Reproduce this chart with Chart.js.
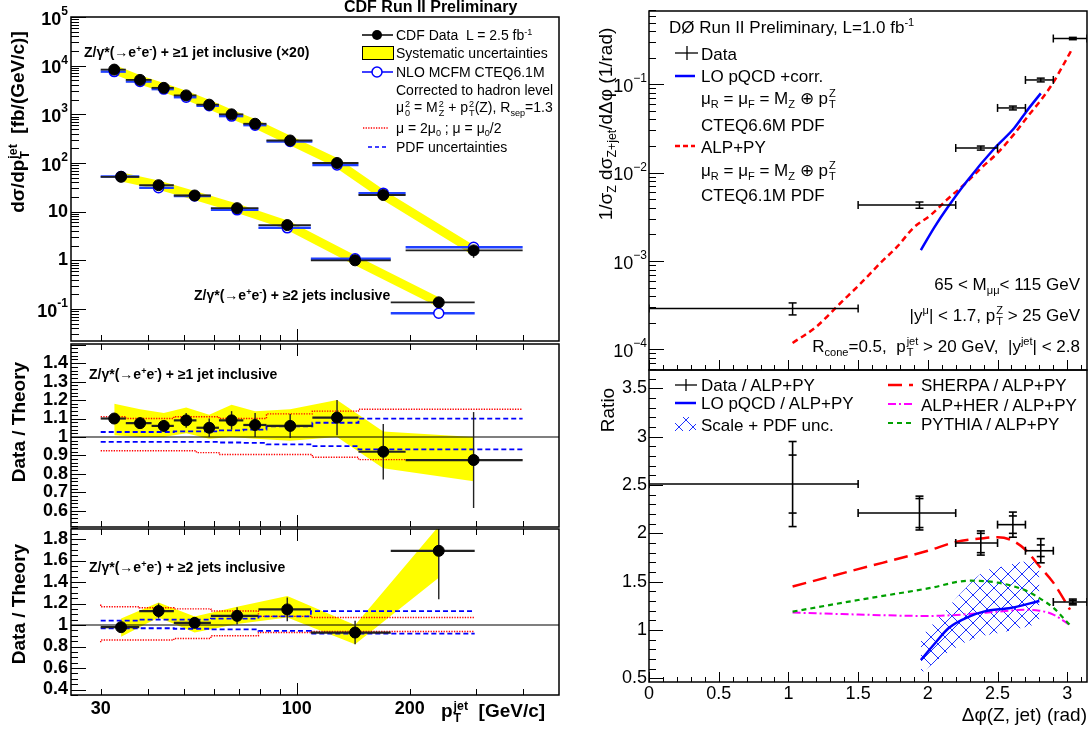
<!DOCTYPE html>
<html>
<head>
<meta charset="utf-8">
<script src="https://cdn.jsdelivr.net/npm/chart.js@4.4.1/dist/chart.umd.min.js"></script>
<style>
  body { margin: 0; background: #fff; width: 1092px; height: 731px; overflow: hidden; position: relative; font-family: "Liberation Sans", Arial, Helvetica, sans-serif; }
  canvas { position: absolute; left: 0; top: 0; }
  .t { position: absolute; white-space: nowrap; line-height: 1; color: #000; transform-origin: 50% 50%; }
  sup, sub { font-size: 65%; line-height: 0; position: relative; vertical-align: baseline; }
  sup { top: -0.6em; }
  sub { top: 0.35em; }
  .ss { display: inline-block; vertical-align: -0.4em; font-size: 65%; line-height: 1; text-align: left; margin-left: 1px; }
  .ss i { display: block; font-style: normal; }
</style>
</head>
<body>
<canvas id="tl" width="1092" height="731"></canvas>
<canvas id="ml" width="1092" height="731"></canvas>
<canvas id="bl" width="1092" height="731"></canvas>
<canvas id="tr" width="1092" height="731"></canvas>
<canvas id="br" width="1092" height="731"></canvas>
<script>
const FONT = '"Liberation Sans", Arial, Helvetica, sans-serif';
const W = 1092, H = 731;

// ---- CDF Z/gamma*(->ee) + jets : jet pT spectra ----
const ptEdges1 = [30, 35, 41, 47, 54, 62, 72, 83, 110, 146, 195, 400];
const ptMid1 = [32.6, 38.2, 44.2, 50.7, 58.4, 67, 77.4, 96, 128, 170, 296];
const xsData1 = [8300, 5100, 3500, 2450, 1580, 1000, 640, 290, 100, 22, 1.6];
const xsNlo1 = [7550, 4720, 3300, 2250, 1500, 920, 600, 276, 91, 24, 1.85];

const ptEdges2 = [30, 38, 47, 59, 79, 109, 178, 298];
const ptMid2 = [34, 42.8, 53.4, 69.3, 94.3, 143, 239];
const xsData2 = [52, 35, 21.5, 11.8, 5.3, 1.0, 0.137];
const xsNlo2 = [53, 31, 21, 10.9, 4.65, 1.08, 0.082];

// data / theory, >= 1 jet
const ratio1 = [1.10, 1.075, 1.06, 1.09, 1.05, 1.09, 1.065, 1.06, 1.105, 0.92, 0.875];
const ratio1Err = [0.025, 0.03, 0.03, 0.04, 0.05, 0.05, 0.065, 0.065, 0.095, 0.15, 0.26];
const sys1Up = [1.18, 1.15, 1.13, 1.16, 1.12, 1.175, 1.14, 1.15, 1.20, 1.03, 1.0];
const sys1Dn = [1.01, 1.0, 1.0, 1.02, 0.99, 1.0, 0.99, 0.98, 1.0, 0.83, 0.76];
const scale1Up = [1.11, 1.11, 1.10, 1.10, 1.11, 1.11, 1.10, 1.10, 1.125, 1.14, 1.15];
const scale1Dn = [0.925, 0.925, 0.925, 0.925, 0.925, 0.915, 0.905, 0.905, 0.905, 0.89, 0.877];
const pdf1Up = [1.027, 1.027, 1.027, 1.027, 1.03, 1.03, 1.036, 1.04, 1.058, 1.077, 1.10];
const pdf1Dn = [0.973, 0.973, 0.973, 0.973, 0.973, 0.973, 0.97, 0.968, 0.96, 0.95, 0.933];

// data / theory, >= 2 jets
const ratio2 = [0.98, 1.13, 1.02, 1.085, 1.145, 0.93, 1.69];
const ratio2Err = [0.04, 0.07, 0.05, 0.08, 0.11, 0.11, 0.45];
const sys2Up = [1.06, 1.21, 1.08, 1.17, 1.27, 1.0, 1.92];
const sys2Dn = [0.89, 1.07, 0.93, 1.01, 1.07, 0.82, 1.44];
const scale2Up = [1.19, 1.17, 1.16, 1.15, 1.13, 1.08, 1.07];
const scale2Dn = [0.84, 0.86, 0.86, 0.875, 0.90, 0.93, 0.94];
const pdf2Up = [1.04, 1.04, 1.05, 1.05, 1.06, 1.08, 1.13];
const pdf2Dn = [0.97, 0.97, 0.97, 0.965, 0.96, 0.945, 0.92];

// ---- D0 delta phi(Z, jet) ----
const dphiLo = [0, 1.5, 2.2, 2.5, 2.7, 2.9];
const dphiHi = [1.5, 2.2, 2.5, 2.7, 2.9, 3.1416];
const dphiMid = [1.03, 1.94, 2.38, 2.61, 2.81, 3.04];
const dphiXs = [2.9e-4, 4.3e-3, 1.9e-2, 5.4e-2, 0.112, 0.33];
const dphiXsErr = [4.5e-5, 3.5e-4, 1e-3, 2.7e-3, 5.5e-3, 1e-2];
const loX = [1.95, 2.05, 2.14, 2.28, 2.48, 2.62, 2.71, 2.81];
const loXs = [1.33e-3, 2.45e-3, 4.0e-3, 8e-3, 1.9e-2, 3.2e-2, 5.0e-2, 7.9e-2];
const alpX = [1.03, 1.2, 1.37, 1.52, 1.66, 1.78, 1.90, 2.02, 2.14, 2.26, 2.38, 2.5, 2.62, 2.72, 2.81, 2.9, 2.97, 3.04];
const alpXs = [1.18e-4, 1.8e-4, 3.3e-4, 5.6e-4, 9.5e-4, 1.45e-3, 2.4e-3, 3.3e-3, 5e-3, 7.3e-3, 1.12e-2, 1.67e-2, 2.75e-2, 4.4e-2, 6.6e-2, 0.105, 0.164, 0.26];

const dphiRatio = [2.51, 2.21, 1.90, 2.09, 1.82, 1.29];
const dphiRatioStat = [0.30, 0.15, 0.10, 0.09, 0.06, 0.015];
const dphiRatioTot = [0.44, 0.175, 0.125, 0.13, 0.125, 0.03];
const sherpaX = [1.03, 1.5, 2.0, 2.2, 2.4, 2.5, 2.6, 2.7, 2.8, 2.9, 3.02];
const sherpaR = [1.45, 1.63, 1.82, 1.91, 1.95, 1.96, 1.93, 1.83, 1.66, 1.49, 1.21];
const mcX = [1.03, 1.5, 2.0, 2.3, 2.5, 2.7, 2.8, 2.9, 3.02];
const pythiaR = [1.19, 1.31, 1.43, 1.51, 1.49, 1.41, 1.33, 1.23, 1.05];
const herR = [1.18, 1.16, 1.145, 1.165, 1.19, 1.21, 1.2, 1.16, 1.05];
const loRX = [1.95, 2.05, 2.15, 2.3, 2.4, 2.6, 2.8];
const loR = [0.69, 0.86, 1.02, 1.14, 1.19, 1.23, 1.30];
const bandX = [1.95, 2.1, 2.25, 2.4, 2.55, 2.7, 2.8];
const bandUp = [0.93, 1.16, 1.40, 1.60, 1.66, 1.71, 1.70];
const bandDn = [0.55, 0.72, 0.86, 0.94, 0.98, 1.03, 1.07];

// tick labels
const ptLabels = [30, 100, 200];
const xsLabels = [[1e5, '5'], [1e4, '4'], [1e3, '3'], [1e2, '2'], [10, ''], [1, ''], [0.1, '-1']];
const r1Labels = [0.6, 0.7, 0.8, 0.9, 1, 1.1, 1.2, 1.3, 1.4];
const r2Labels = [0.4, 0.6, 0.8, 1, 1.2, 1.4, 1.6, 1.8];
const dphiLabels = [0, 0.5, 1, 1.5, 2, 2.5, 3];
const d0Labels = [[0.1, '\u22121'], [0.01, '\u22122'], [0.001, '\u22123'], [0.0001, '\u22124']];
const ratioLabels = [0.5, 1, 1.5, 2, 2.5, 3, 3.5];

// frames [left, top, right, bottom]
const FR = {
  tl: [71, 17, 559, 341], ml: [71, 344, 559, 527], bl: [71, 529, 559, 695],
  tr: [649, 11, 1087, 370], br: [649, 370, 1087, 682]
};
const ptMin = 25, ptMax = 500;
const LABX = 68;

const pts = (xs, ys) => xs.map((x, i) => ({ x: x, y: ys[i] }));
const steps = (edges, vals) => vals.map((v, i) => ({ x: edges[i], y: v }))
  .concat([{ x: edges[edges.length - 1], y: vals[vals.length - 1] }]);
const NONE = 'rgba(0,0,0,0)';

function logVals(e0, e1, mults) {
  const out = [];
  for (let e = e0; e <= e1; e++) mults.forEach(m => out.push(m * Math.pow(10, e)));
  return out;
}
function linVals(a, b, step) {
  const out = [];
  for (let i = 0; a + i * step <= b + 1e-9; i++) out.push(+(a + i * step).toFixed(4));
  return out;
}

function txt(ctx, s, x, y, size, bold, align) {
  ctx.font = (bold ? 'bold ' : '') + size + 'px ' + FONT;
  ctx.textAlign = align; ctx.textBaseline = 'middle'; ctx.fillStyle = '#000';
  ctx.fillText(s, x, y);
}
function pow10(ctx, exp, xr, y, size, bold) {
  const b = bold ? 'bold ' : '';
  const es = Math.round(size * 0.65);
  ctx.font = b + es + 'px ' + FONT;
  const we = ctx.measureText(exp).width;
  ctx.font = b + size + 'px ' + FONT;
  const wb = ctx.measureText('10').width;
  ctx.textAlign = 'left'; ctx.textBaseline = 'middle'; ctx.fillStyle = '#000';
  ctx.fillText('10', xr - we - wb, y + size * 0.15);
  ctx.font = b + es + 'px ' + FONT;
  ctx.fillText(exp, xr - we, y - size * 0.3);
}

function frameBox(ctx, a) {
  ctx.strokeStyle = '#000'; ctx.lineWidth = 1.5; ctx.setLineDash([]);
  ctx.strokeRect(a.left, a.top, a.right - a.left, a.bottom - a.top);
}
function tickX(ctx, ch, vals, len, top, bottom) {
  const a = ch.chartArea, X = ch.scales.x;
  ctx.lineWidth = 1; ctx.strokeStyle = '#000'; ctx.setLineDash([]); ctx.beginPath();
  vals.forEach(v => {
    const p = Math.round(X.getPixelForValue(v)) + 0.5;
    if (p < a.left - 0.6 || p > a.right + 0.6) return;
    if (bottom) { ctx.moveTo(p, a.bottom); ctx.lineTo(p, a.bottom - len); }
    if (top) { ctx.moveTo(p, a.top); ctx.lineTo(p, a.top + len); }
  });
  ctx.stroke();
}
function tickY(ctx, ch, vals, len) {
  const a = ch.chartArea, Y = ch.scales.y;
  ctx.lineWidth = 1; ctx.strokeStyle = '#000'; ctx.setLineDash([]); ctx.beginPath();
  vals.forEach(v => {
    const p = Math.round(Y.getPixelForValue(v)) + 0.5;
    if (p < a.top - 0.6 || p > a.bottom + 0.6) return;
    ctx.moveTo(a.left, p); ctx.lineTo(a.left + len, p);
  });
  ctx.stroke();
}
function seg(ctx, x1, y1, x2, y2) { ctx.beginPath(); ctx.moveTo(x1, y1); ctx.lineTo(x2, y2); ctx.stroke(); }
function clipArea(ctx, a) { ctx.save(); ctx.beginPath(); ctx.rect(a.left, a.top, a.right - a.left, a.bottom - a.top); ctx.clip(); }

// horizontal bin bars + vertical error bars, placed through the chart scales
function binBars(ch, ctx, lo, hi, ys, errs, color, lw) {
  const X = ch.scales.x, Y = ch.scales.y;
  clipArea(ctx, ch.chartArea);
  ctx.strokeStyle = color; ctx.lineWidth = lw; ctx.setLineDash([]);
  ys.forEach((y, i) => {
    const py = Y.getPixelForValue(y);
    seg(ctx, X.getPixelForValue(lo[i]), py, X.getPixelForValue(hi[i]), py);
    if (errs) {
      const px = X.getPixelForValue(errs.x[i]);
      ctx.lineWidth = 1.4;
      seg(ctx, px, Y.getPixelForValue(y - errs.e[i]), px, Y.getPixelForValue(y + errs.e[i]));
      ctx.lineWidth = lw;
    }
  });
  ctx.restore();
}

function makeHatch() {
  const s = 14, c = document.createElement('canvas');
  c.width = s; c.height = s;
  const g = c.getContext('2d');
  g.strokeStyle = '#1e32ff'; g.lineWidth = 1;
  g.beginPath();
  g.moveTo(-1, -1); g.lineTo(s + 1, s + 1);
  g.moveTo(s + 1, -1); g.lineTo(-1, s + 1);
  g.stroke();
  return g.createPattern(c, 'repeat');
}
const hatch = makeHatch();

function mk(id, xs, ys, datasets, hooks, axes) {
  const f = FR[id];
  return new Chart(document.getElementById(id), {
    type: 'line',
    data: { datasets: datasets },
    options: {
      responsive: false, animation: false, devicePixelRatio: 1, events: [],
      layout: { padding: { left: f[0], top: f[1], right: W - f[2], bottom: H - f[3] } },
      scales: {
        x: Object.assign({ display: false, bounds: 'data' }, xs),
        y: Object.assign({ display: false, bounds: 'data' }, ys)
      },
      datasets: { line: { clip: 0, tension: 0 } },
      plugins: { legend: { display: false }, tooltip: { enabled: false } }
    },
    plugins: [{
      id: 'deco_' + id,
      afterDatasetDraw(ch, args) {
        const fn = hooks[ch.data.datasets[args.index].label];
        if (fn) fn(ch, ch.ctx);
      },
      afterDraw(ch) { ch.ctx.save(); axes(ch, ch.ctx); ch.ctx.restore(); }
    }]
  });
}

// ---------- left: pT spectra ----------
const lo1 = ptEdges1.slice(0, -1), hi1 = ptEdges1.slice(1);
const lo2 = ptEdges2.slice(0, -1), hi2 = ptEdges2.slice(1);
const xLog = { type: 'logarithmic', min: ptMin, max: ptMax };

function leftX(ch, ctx, top, bottom) {
  tickX(ctx, ch, [30, 40, 50, 60, 70, 80, 90, 200, 300, 400], 6, top, bottom);
  tickX(ctx, ch, [100], 12, top, bottom);
}

mk('tl', xLog, { type: 'logarithmic', min: 0.022, max: 1e5 }, [
  { label: 'sys1', data: pts(ptMid1, xsData1), borderColor: '#ffff00', borderWidth: 9, pointRadius: 0, order: 11 },
  { label: 'sys2', data: pts(ptMid2, xsData2), borderColor: '#ffff00', borderWidth: 9, pointRadius: 0, order: 10 },
  { label: 'nlo1', data: pts(ptMid1, xsNlo1), showLine: false, pointRadius: 5, pointBorderColor: '#0000ff', pointBackgroundColor: '#fff', pointBorderWidth: 1.5, order: 4 },
  { label: 'nlo2', data: pts(ptMid2, xsNlo2), showLine: false, pointRadius: 5, pointBorderColor: '#0000ff', pointBackgroundColor: '#fff', pointBorderWidth: 1.5, order: 3 },
  { label: 'cdf1', data: pts(ptMid1, xsData1), showLine: false, pointRadius: 5.5, pointBorderColor: '#000', pointBackgroundColor: '#000', order: 2 },
  { label: 'cdf2', data: pts(ptMid2, xsData2), showLine: false, pointRadius: 5.5, pointBorderColor: '#000', pointBackgroundColor: '#000', order: 1 }
], {
  sys2: (ch, ctx) => {
    binBars(ch, ctx, lo1, hi1, xsNlo1, null, '#2040ff', 2.5);
    binBars(ch, ctx, lo2, hi2, xsNlo2, null, '#2040ff', 2.5);
    binBars(ch, ctx, lo1, hi1, xsData1, { x: ptMid1, e: xsData1.map((v, i) => v * ratio1Err[i] / ratio1[i]) }, '#222', 1.8);
    binBars(ch, ctx, lo2, hi2, xsData2, { x: ptMid2, e: xsData2.map((v, i) => v * ratio2Err[i] / ratio2[i]) }, '#222', 1.8);
  }
}, (ch, ctx) => {
  const a = ch.chartArea, Y = ch.scales.y;
  tickY(ctx, ch, logVals(-2, 5, [2, 3, 4, 5, 6, 7, 8, 9]), 8);
  tickY(ctx, ch, logVals(-2, 5, [1]), 15);
  leftX(ch, ctx, false, true);
  frameBox(ctx, a);
  xsLabels.forEach(([v, e]) => {
    const y = Y.getPixelForValue(v);
    if (e) pow10(ctx, e, LABX, y, 18, true);
    else txt(ctx, String(v), LABX, y, 18, true, 'right');
  });
  // legend symbols
  ctx.lineWidth = 1.5; ctx.strokeStyle = '#000';
  seg(ctx, 362, 35, 393, 35);
  ctx.fillStyle = '#000'; ctx.beginPath(); ctx.arc(377, 35, 5, 0, 2 * Math.PI); ctx.fill();
  ctx.fillStyle = '#ffff00'; ctx.fillRect(362, 46, 31, 13);
  ctx.lineWidth = 1; ctx.strokeRect(362.5, 46.5, 31, 13);
  ctx.strokeStyle = '#0000ff'; ctx.lineWidth = 1.5;
  seg(ctx, 362, 72, 393, 72);
  ctx.fillStyle = '#fff'; ctx.beginPath(); ctx.arc(377, 72, 5, 0, 2 * Math.PI); ctx.fill(); ctx.stroke();
  ctx.strokeStyle = '#ff0000'; ctx.lineWidth = 1.3; ctx.setLineDash([1.3, 1.3]);
  seg(ctx, 363, 128, 389, 128);
  ctx.strokeStyle = '#0000ff'; ctx.lineWidth = 1.5; ctx.setLineDash([4, 3]);
  seg(ctx, 368, 147, 389, 147);
});

function ratioPanel(id, mid, edges, ratio, err, sUp, sDn, scUp, scDn, pUp, pDn, yr, yLabels, majStep, minStep) {
  const lo = edges.slice(0, -1), hi = edges.slice(1);
  mk(id, xLog, { type: 'linear', min: yr[0], max: yr[1] }, [
    { label: 'sysUp', data: pts(mid, sUp), borderColor: NONE, borderWidth: 0, pointRadius: 0, fill: '+1', backgroundColor: '#ffff00', order: 21 },
    { label: 'sysDn', data: pts(mid, sDn), borderColor: NONE, borderWidth: 0, pointRadius: 0, order: 20 },
    { label: 'one', data: [{ x: ptMin, y: 1 }, { x: ptMax, y: 1 }], borderColor: '#000', borderWidth: 1.2, pointRadius: 0, order: 15 },
    { label: 'scUp', data: steps(edges, scUp), stepped: 'after', borderColor: '#ff0000', borderWidth: 1.4, borderDash: [1.3, 1.3], pointRadius: 0, order: 14 },
    { label: 'scDn', data: steps(edges, scDn), stepped: 'after', borderColor: '#ff0000', borderWidth: 1.4, borderDash: [1.3, 1.3], pointRadius: 0, order: 13 },
    { label: 'pdfUp', data: steps(edges, pUp), stepped: 'after', borderColor: '#0000ff', borderWidth: 1.8, borderDash: [5, 3], pointRadius: 0, order: 12 },
    { label: 'pdfDn', data: steps(edges, pDn), stepped: 'after', borderColor: '#0000ff', borderWidth: 1.8, borderDash: [5, 3], pointRadius: 0, order: 11 },
    { label: 'ratio', data: pts(mid, ratio), showLine: false, pointRadius: 5.5, pointBorderColor: '#000', pointBackgroundColor: '#000', order: 1 }
  ], {
    pdfDn: (ch, ctx) => binBars(ch, ctx, lo, hi, ratio, { x: mid, e: err }, '#222', 2.2)
  }, (ch, ctx) => {
    const a = ch.chartArea, Y = ch.scales.y;
    tickY(ctx, ch, linVals(0.3, 2, minStep), 7);
    tickY(ctx, ch, linVals(0.2, 2, majStep), 15);
    leftX(ch, ctx, true, true);
    frameBox(ctx, a);
    yLabels.forEach(v => txt(ctx, String(v), LABX, Y.getPixelForValue(v), 18, true, 'right'));
    if (id === 'bl') ptLabels.forEach(v => txt(ctx, String(v), ch.scales.x.getPixelForValue(v), 709, 18, true, 'center'));
  });
}
ratioPanel('ml', ptMid1, ptEdges1, ratio1, ratio1Err, sys1Up, sys1Dn, scale1Up, scale1Dn, pdf1Up, pdf1Dn, [0.512, 1.504], r1Labels, 0.1, 0.02);
ratioPanel('bl', ptMid2, ptEdges2, ratio2, ratio2Err, sys2Up, sys2Dn, scale2Up, scale2Dn, pdf2Up, pdf2Dn, [0.349, 1.893], r2Labels, 0.2, 0.05);

// ---------- right: delta phi ----------
const xPhi = { type: 'linear', min: 0, max: 3.1416 };

function crosses(ch, ctx, ys, stat, tot, lw) {
  const X = ch.scales.x, Y = ch.scales.y;
  clipArea(ctx, ch.chartArea);
  ctx.strokeStyle = '#000'; ctx.lineWidth = lw; ctx.setLineDash([]);
  ys.forEach((y, i) => {
    const py = Y.getPixelForValue(y), px = X.getPixelForValue(dphiMid[i]);
    const xl = X.getPixelForValue(dphiLo[i]), xr = X.getPixelForValue(dphiHi[i]);
    seg(ctx, xl, py, xr, py);
    seg(ctx, xl, py - 4, xl, py + 4);
    seg(ctx, xr, py - 4, xr, py + 4);
    const t1 = Y.getPixelForValue(y + tot[i]), t2 = Y.getPixelForValue(y - tot[i]);
    seg(ctx, px, t1, px, t2);
    seg(ctx, px - 4, t1, px + 4, t1); seg(ctx, px - 4, t2, px + 4, t2);
    if (stat) {
      const s1 = Y.getPixelForValue(y + stat[i]), s2 = Y.getPixelForValue(y - stat[i]);
      seg(ctx, px - 4, s1, px + 4, s1); seg(ctx, px - 4, s2, px + 4, s2);
    }
  });
  ctx.restore();
}
function phiTicks(ch, ctx) {
  tickX(ctx, ch, linVals(0, 3.1, 0.1), 5, false, true);
  tickX(ctx, ch, linVals(0, 3, 0.5), 10, false, true);
}

mk('tr', xPhi, { type: 'logarithmic', min: 5.83e-5, max: 0.676 }, [
  { label: 'alp', data: pts(alpX, alpXs), borderColor: '#ff0000', borderWidth: 2.5, borderDash: [6, 4], pointRadius: 0, cubicInterpolationMode: 'monotone', order: 3 },
  { label: 'lo', data: pts(loX, loXs), borderColor: '#0000ff', borderWidth: 2.5, pointRadius: 0, cubicInterpolationMode: 'monotone', order: 2 },
  { label: 'd0', data: pts(dphiMid, dphiXs), showLine: false, pointRadius: 0, order: 1 }
], {
  d0: (ch, ctx) => crosses(ch, ctx, dphiXs, null, dphiXsErr, 1.5)
}, (ch, ctx) => {
  const a = ch.chartArea, Y = ch.scales.y;
  tickY(ctx, ch, logVals(-5, 0, [2, 3, 4, 5, 6, 7, 8, 9]), 7);
  tickY(ctx, ch, logVals(-5, 0, [1]), 15);
  phiTicks(ch, ctx);
  frameBox(ctx, a);
  d0Labels.forEach(([v, e]) => pow10(ctx, e, 647, Y.getPixelForValue(v), 18, false));
  // legend symbols
  ctx.strokeStyle = '#000'; ctx.lineWidth = 1.3;
  seg(ctx, 675, 53, 698, 53); seg(ctx, 687, 46, 687, 60);
  ctx.strokeStyle = '#0000ff'; ctx.lineWidth = 2.5;
  seg(ctx, 675, 76, 695, 76);
  ctx.strokeStyle = '#ff0000'; ctx.setLineDash([5, 3]);
  seg(ctx, 675, 146, 695, 146);
});

mk('br', xPhi, { type: 'linear', min: 0.462, max: 3.69 }, [
  { label: 'bandUp', data: pts(bandX, bandUp), borderColor: NONE, borderWidth: 0, pointRadius: 0, fill: '+1', backgroundColor: hatch, cubicInterpolationMode: 'monotone', order: 10 },
  { label: 'bandDn', data: pts(bandX, bandDn), borderColor: NONE, borderWidth: 0, pointRadius: 0, cubicInterpolationMode: 'monotone', order: 9 },
  { label: 'her', data: pts(mcX, herR), borderColor: '#ff00ff', borderWidth: 2, borderDash: [8, 3, 2, 3], pointRadius: 0, cubicInterpolationMode: 'monotone', order: 6 },
  { label: 'pythia', data: pts(mcX, pythiaR), borderColor: '#00a000', borderWidth: 2.2, borderDash: [5, 4], pointRadius: 0, cubicInterpolationMode: 'monotone', order: 5 },
  { label: 'sherpa', data: pts(sherpaX, sherpaR), borderColor: '#ff0000', borderWidth: 2.5, borderDash: [14, 7], pointRadius: 0, cubicInterpolationMode: 'monotone', order: 4 },
  { label: 'loR', data: pts(loRX, loR), borderColor: '#0000ff', borderWidth: 2.5, pointRadius: 0, cubicInterpolationMode: 'monotone', order: 3 },
  { label: 'ratio', data: pts(dphiMid, dphiRatio), showLine: false, pointRadius: 0, order: 1 }
], {
  ratio: (ch, ctx) => crosses(ch, ctx, dphiRatio, dphiRatioStat, dphiRatioTot, 1.6)
}, (ch, ctx) => {
  const a = ch.chartArea, X = ch.scales.x, Y = ch.scales.y;
  tickY(ctx, ch, linVals(0.5, 3.6, 0.1), 7);
  tickY(ctx, ch, linVals(0.5, 3.5, 0.5), 14);
  phiTicks(ch, ctx);
  frameBox(ctx, a);
  ratioLabels.forEach(v => txt(ctx, String(v), 647, Y.getPixelForValue(v), 18, false, 'right'));
  dphiLabels.forEach(v => txt(ctx, String(v), X.getPixelForValue(v), 694, 18, false, 'center'));
  // legend symbols
  ctx.strokeStyle = '#000'; ctx.lineWidth = 1.3;
  seg(ctx, 675, 385, 697, 385); seg(ctx, 686, 379, 686, 391);
  ctx.strokeStyle = '#0000ff'; ctx.lineWidth = 2.5;
  seg(ctx, 675, 403, 696, 403);
  ctx.fillStyle = hatch; ctx.fillRect(675, 417, 21, 14);
  ctx.strokeStyle = '#ff0000'; ctx.lineWidth = 2.5; ctx.setLineDash([14, 7]);
  seg(ctx, 888, 385, 913, 385);
  ctx.strokeStyle = '#ff00ff'; ctx.lineWidth = 2; ctx.setLineDash([8, 3, 2, 3]);
  seg(ctx, 888, 404, 913, 404);
  ctx.strokeStyle = '#00a000'; ctx.lineWidth = 2.2; ctx.setLineDash([5, 4]);
  seg(ctx, 888, 423, 913, 423);
});

// ---------- text ----------
const Zee = 'Z/γ*(→e<sup>+</sup>e<sup>-</sup>) + ';
const pTjet = 'p<span class="ss"><i>jet</i><i>T</i></span>';
const muLine = 'μ<sub>R</sub> = μ<sub>F</sub> = M<sub>Z</sub> ⊕ p<span class="ss"><i>Z</i><i>T</i></span>';
const texts = [
  // [x, yCenter, html, size, bold, align, rotate]
  [344, 7, 'CDF Run II Preliminary', 16, true, 'l'],
  [84, 52, Zee + '≥1 jet inclusive (×20)', 14, true, 'l'],
  [194, 295, Zee + '≥2 jets inclusive', 14, true, 'l'],
  [89, 374, Zee + '≥1 jet inclusive', 14, true, 'l'],
  [89, 567, Zee + '≥2 jets inclusive', 14, true, 'l'],
  [396, 35, 'CDF Data&nbsp; L = 2.5 fb<sup>-1</sup>', 14, false, 'l'],
  [396, 53, 'Systematic uncertainties', 14, false, 'l'],
  [396, 72, 'NLO MCFM CTEQ6.1M', 14, false, 'l'],
  [396, 90, 'Corrected to hadron level', 14, false, 'l'],
  [396, 109, 'μ<span class="ss"><i>2</i><i>0</i></span> = M<span class="ss"><i>2</i><i>Z</i></span> + p<span class="ss"><i>2</i><i>T</i></span>(Z), R<sub>sep</sub>=1.3', 14, false, 'l'],
  [396, 128, 'μ = 2μ<sub>0</sub> ; μ = μ<sub>0</sub>/2', 14, false, 'l'],
  [396, 147, 'PDF uncertainties', 14, false, 'l'],
  [19, 122, 'dσ/d' + pTjet + '&nbsp; [fb/(GeV/c)]', 19, true, 'c', true],
  [18, 422, 'Data / Theory', 19, true, 'c', true],
  [18, 604, 'Data / Theory', 19, true, 'c', true],
  [441, 712, pTjet + '&nbsp; [GeV/c]', 19, true, 'l'],
  [669, 27, 'DØ Run II Preliminary, L=1.0 fb<sup>-1</sup>', 17, false, 'l'],
  [701, 54, 'Data', 17, false, 'l'],
  [701, 76, 'LO pQCD +corr.', 17, false, 'l'],
  [701, 99, muLine, 17, false, 'l'],
  [701, 125, 'CTEQ6.6M PDF', 17, false, 'l'],
  [701, 147, 'ALP+PY', 17, false, 'l'],
  [701, 171, muLine, 17, false, 'l'],
  [701, 195, 'CTEQ6.1M PDF', 17, false, 'l'],
  [1080, 284, '65 &lt; M<sub>μμ</sub>&lt; 115 GeV', 17, false, 'r'],
  [1080, 316, '|y<sup>μ</sup>| &lt; 1.7, p<span class="ss"><i>Z</i><i>T</i></span> &gt; 25 GeV', 17, false, 'r'],
  [1080, 347, 'R<sub>cone</sub>=0.5,&nbsp; ' + pTjet + ' &gt; 20 GeV,&nbsp; |y<sup>jet</sup>| &lt; 2.8', 17, false, 'r'],
  [605, 124, '1/σ<sub>Z</sub> dσ<sub>Z+jet</sub>/dΔφ (1/rad)', 19, false, 'c', true],
  [607, 410, 'Ratio', 19, false, 'c', true],
  [1087, 714, 'Δφ(Z, jet) (rad)', 19, false, 'r'],
  [701, 385, 'Data / ALP+PY', 17, false, 'l'],
  [701, 403, 'LO pQCD / ALP+PY', 17, false, 'l'],
  [701, 425, 'Scale + PDF unc.', 17, false, 'l'],
  [921, 385, 'SHERPA / ALP+PY', 17, false, 'l'],
  [921, 405, 'ALP+HER / ALP+PY', 17, false, 'l'],
  [921, 424, 'PYTHIA / ALP+PY', 17, false, 'l']
];
texts.forEach(([x, y, html, size, bold, align, rot]) => {
  const d = document.createElement('div');
  d.className = 't';
  d.style.left = x + 'px'; d.style.top = y + 'px';
  d.style.fontSize = size + 'px';
  if (bold) d.style.fontWeight = 'bold';
  const tx = align === 'r' ? '-100%' : align === 'c' ? '-50%' : '0';
  d.style.transform = 'translate(' + tx + ',-50%)' + (rot ? ' rotate(-90deg)' : '');
  d.innerHTML = html;
  document.body.appendChild(d);
});
</script>
</body>
</html>
